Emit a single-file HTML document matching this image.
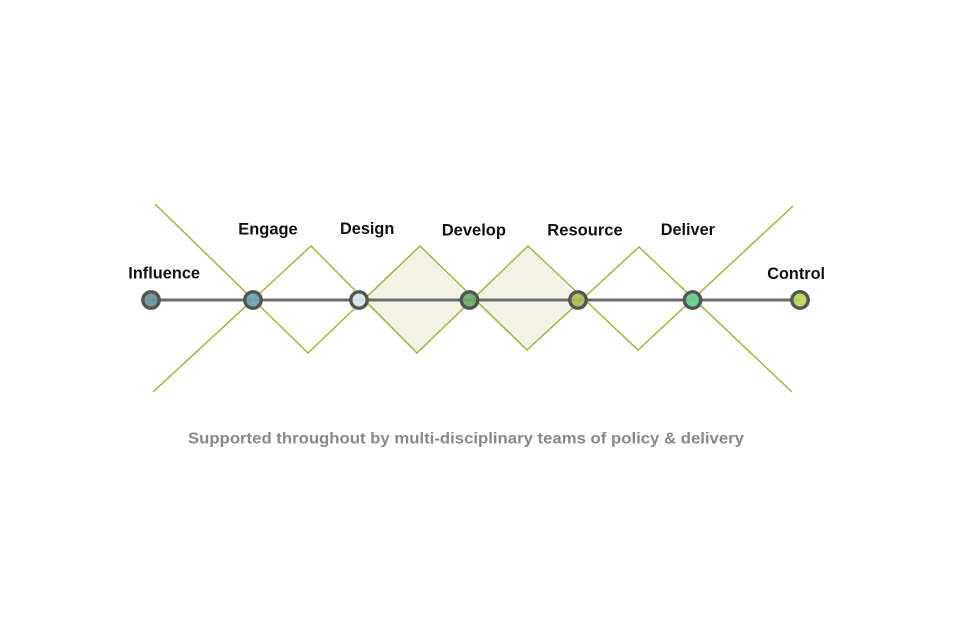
<!DOCTYPE html>
<html>
<head>
<meta charset="utf-8">
<style>
  html,body{margin:0;padding:0;background:#fff;}
  svg{display:block;}
  .lbl{font-family:"Liberation Sans",Arial,sans-serif;font-weight:bold;font-size:17px;fill:#111;}
  .cap{font-family:"Liberation Sans",Arial,sans-serif;font-weight:bold;font-size:16px;fill:#888;}
</style>
</head>
<body>
<svg width="960" height="640" viewBox="0 0 960 640" xmlns="http://www.w3.org/2000/svg">
  <rect width="960" height="640" fill="#fff"/>
  <!-- filled diamonds -->
  <polygon points="361,300 420,246 471,300 417,353" fill="#f2f3e5"/>
  <polygon points="471,300 528,246 580,300 527,350" fill="#f2f3e5"/>
  <!-- horizontal line -->
  <line x1="151" y1="300" x2="800" y2="300" stroke="#6b6b6b" stroke-width="3"/>
  <!-- zigzag lines -->
  <g fill="none" stroke="#a0b13c" stroke-width="1.4" stroke-linejoin="miter">
    <polyline points="155,204 308,353 420,246 527,350 639,247 792,392"/>
    <polyline points="153,392 311,246 417,353 528,246 638,350 793,206"/>
  </g>
  <!-- circles -->
  <g stroke="#555" stroke-width="3.4" fill-opacity="0.92">
    <circle cx="151" cy="300" r="8.2" fill="#6a929c"/>
    <circle cx="253" cy="300" r="8.2" fill="#6fa2b3"/>
    <circle cx="359" cy="300" r="8.2" fill="#d2e8ec"/>
    <circle cx="469.5" cy="300" r="8.2" fill="#6cae6a"/>
    <circle cx="578" cy="300" r="8.2" fill="#b0bd58"/>
    <circle cx="692.5" cy="300" r="8.2" fill="#62d08f"/>
    <circle cx="800" cy="300" r="8.2" fill="#b8d65a"/>
  </g>
  <!-- labels -->
  <text class="lbl" x="128.3" y="278.5" textLength="71.7" lengthAdjust="spacingAndGlyphs">Influence</text>
  <text class="lbl" x="238.3" y="234.5" textLength="59.4" lengthAdjust="spacingAndGlyphs">Engage</text>
  <text class="lbl" x="340" y="234.2" textLength="54.3" lengthAdjust="spacingAndGlyphs">Design</text>
  <text class="lbl" x="441.7" y="235.7" textLength="64.3" lengthAdjust="spacingAndGlyphs">Develop</text>
  <text class="lbl" x="547.3" y="235.5" textLength="75.4" lengthAdjust="spacingAndGlyphs">Resource</text>
  <text class="lbl" x="660.7" y="234.9" textLength="54.3" lengthAdjust="spacingAndGlyphs">Deliver</text>
  <text class="lbl" x="767.3" y="278.9" textLength="57.7" lengthAdjust="spacingAndGlyphs">Control</text>
  <text class="cap" x="188" y="443.5" textLength="556" lengthAdjust="spacingAndGlyphs">Supported throughout by multi-disciplinary teams of policy &amp; delivery</text>
</svg>
</body>
</html>
